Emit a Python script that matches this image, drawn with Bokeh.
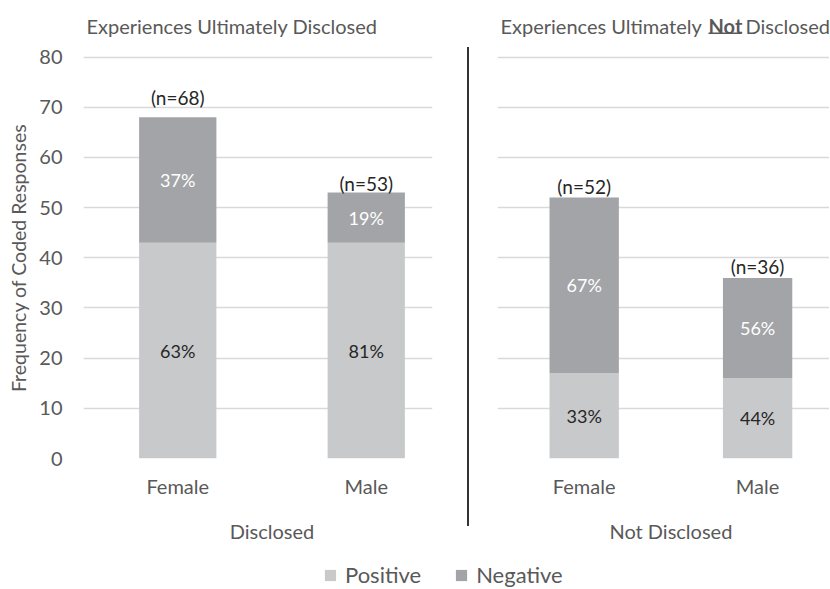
from bokeh.plotting import figure
from bokeh.models import (Range1d, FixedTicker, Label, Legend, LegendItem,
                          ColumnDataSource, Div, BoxAnnotation, LinearAxis)
from bokeh.layouts import row, column
from bokeh.embed import file_html
from bokeh.resources import INLINE
from bokeh.core.properties import value

# ---------------- data ----------------
CATEGORIES = ["Female", "Male"]
GROUPS = ["Disclosed", "Not Disclosed"]
DISCLOSED_POSITIVE = [43, 43]
DISCLOSED_NEGATIVE = [25, 10]
NOT_DISCLOSED_POSITIVE = [17, 16]
NOT_DISCLOSED_NEGATIVE = [35, 20]
Y_TICKS = [0, 10, 20, 30, 40, 50, 60, 70, 80]
SERIES = ["Positive", "Negative"]
Y_TITLE = "Frequency of Coded Responses"
TITLE_LEFT = "Experiences Ultimately Disclosed"
TITLE_RIGHT = ["Experiences Ultimately", "Not", "Disclosed"]

# ---------------- style ----------------
FONT = "Lato"
POS_COLOR = "#C8C9CB"
NEG_COLOR = "#A3A4A7"
GRID_COLOR = "#D9D9D9"
AXIS_TEXT = "#595959"
DARK_TEXT = "#262626"
FIG_H = 545
PLOT_TOP_PX = 57          # pixel row of the 80 gridline
PLOT_H_PX = 404           # pixels between 0 and 80
Y_MAX = 80
PX_PER_Y = PLOT_H_PX / Y_MAX
Y_END = Y_MAX + PLOT_TOP_PX / PX_PER_Y


def style_axis(ax, standoff, size):
    ax.axis_line_color = None
    ax.major_tick_line_color = None
    ax.minor_tick_line_color = None
    ax.major_tick_out = 0
    ax.major_tick_in = 0
    ax.major_label_standoff = standoff
    ax.major_label_text_font = FONT
    ax.major_label_text_font_size = size
    ax.major_label_text_color = AXIS_TEXT


def make_panel(pos, neg, group, width, border_left, border_right, x_end,
               bar_width, n_offsets, show_y):
    xs = list(range(len(CATEGORIES)))
    total = [a + b for a, b in zip(pos, neg)]
    src = ColumnDataSource(dict(
        x=xs, pos=pos, neg=neg, total=total,
        pos_mid=[a / 2 for a in pos],
        neg_mid=[a + b / 2 for a, b in zip(pos, neg)],
        pos_lbl=[f"{round(100 * a / t)}%" for a, t in zip(pos, total)],
        neg_lbl=[f"{round(100 * b / t)}%" for b, t in zip(neg, total)],
        n_lbl=[f"(n={t})" for t in total],
        n_off=[-o for o in n_offsets],
    ))
    p = figure(width=width, height=FIG_H, x_range=Range1d(-0.5, x_end),
               y_range=Range1d(0, Y_END), output_backend="svg",
               toolbar_location=None, title=None,
               min_border_left=border_left, min_border_right=border_right,
               min_border_top=0,
               min_border_bottom=FIG_H - PLOT_TOP_PX - PLOT_H_PX,
               outline_line_color=None)
    p.vbar(x="x", bottom=0, top="pos", width=bar_width, source=src,
           fill_color=POS_COLOR, line_color=None)
    p.vbar(x="x", bottom="pos", top="total", width=bar_width, source=src,
           fill_color=NEG_COLOR, line_color=None)
    p.text(x="x", y="pos_mid", text="pos_lbl", source=src,
           text_align="center", text_baseline="middle",
           text_font=value(FONT), text_font_size="18px", text_color=DARK_TEXT)
    p.text(x="x", y="neg_mid", text="neg_lbl", source=src,
           text_align="center", text_baseline="middle",
           text_font=value(FONT), text_font_size="18px", text_color="white")
    p.text(x="x", y="total", text="n_lbl", y_offset="n_off", source=src,
           text_align="center", text_baseline="middle",
           text_font=value(FONT), text_font_size="19px", text_color=DARK_TEXT)

    p.xgrid.visible = False
    p.ygrid.ticker = FixedTicker(ticks=Y_TICKS)
    p.ygrid.grid_line_color = GRID_COLOR
    p.ygrid.grid_line_width = 1.5

    p.xaxis.ticker = FixedTicker(ticks=xs)
    p.xaxis.major_label_overrides = {i: c for i, c in enumerate(CATEGORIES)}
    style_axis(p.xaxis[0], 15, "20px")

    # second category axis carrying the group name, centred between bars
    mid = (xs[0] + xs[-1]) / 2
    gax = LinearAxis(ticker=FixedTicker(ticks=[mid]),
                     major_label_overrides={mid: group})
    p.add_layout(gax, "below")
    style_axis(gax, 18, "20px")

    if show_y:
        p.yaxis.ticker = FixedTicker(ticks=Y_TICKS)
        style_axis(p.yaxis[0], 21, "20px")
        # y title as a rotated label centred on the 0..80 span
        ymid = (Y_TICKS[0] + Y_TICKS[-1]) / 2
        tax = LinearAxis(ticker=FixedTicker(ticks=[ymid]),
                         major_label_overrides={ymid: Y_TITLE},
                         major_label_orientation="vertical")
        p.add_layout(tax, "left")
        style_axis(tax, 6, "19.5px")
    else:
        p.yaxis.visible = False
    return p


# left panel: frame 83..432 px, category spacing 188.5 px
left = make_panel(DISCLOSED_POSITIVE, DISCLOSED_NEGATIVE, GROUPS[0],
                  width=467, border_left=83, border_right=35,
                  x_end=-0.5 + 349 / 188.5,
                  bar_width=0.41, n_offsets=[20, 9], show_y=True)
left.add_layout(Label(x=-0.5, y=Y_MAX, x_offset=3, y_offset=31,
                      text=TITLE_LEFT,
                      text_align="left", text_baseline="alphabetic",
                      text_font=FONT, text_font_size="20px",
                      text_color=AXIS_TEXT))

# right panel: frame 497..829 px, category spacing 173.4 px
R_UNIT = 173.4
right = make_panel(NOT_DISCLOSED_POSITIVE, NOT_DISCLOSED_NEGATIVE, GROUPS[1],
                   width=360, border_left=28, border_right=0,
                   x_end=-0.5 + 332 / R_UNIT,
                   bar_width=0.4, n_offsets=[11, 11], show_y=False)
for txt, off, style in zip(TITLE_RIGHT, [3, 211, 248],
                           ["normal", "bold", "normal"]):
    right.add_layout(Label(x=-0.5, y=Y_MAX, x_offset=off, y_offset=31,
                           text=txt, text_align="left",
                           text_baseline="alphabetic", text_font=FONT,
                           text_font_size="20px", text_font_style=style,
                           text_color=AXIS_TEXT))
# underline beneath the bold word
right.add_layout(BoxAnnotation(left=-0.5 + 211 / R_UNIT,
                               right=-0.5 + 244 / R_UNIT,
                               bottom=Y_MAX + 23.2 / PX_PER_Y,
                               top=Y_MAX + 24.8 / PX_PER_Y,
                               fill_color=AXIS_TEXT, fill_alpha=1,
                               line_color=None))

sep = Div(text="", width=2, height=479, margin=(47, 0, 0, 0),
          styles={"background-color": "#333333"})

# legend strip
lg = figure(width=829, height=42, output_backend="svg", toolbar_location=None,
            title=None, min_border=0, outline_line_color=None,
            x_range=Range1d(0, 1), y_range=Range1d(0, 1),
            x_axis_location=None, y_axis_location=None)
lg.grid.visible = False
key_src = ColumnDataSource(dict(x=[0, 0], top=[0, 0], series=SERIES))
r_pos = lg.vbar(x="x", top="top", width=0.0, source=key_src,
                fill_color=POS_COLOR, line_color=None)
r_neg = lg.vbar(x="x", top="top", width=0.0, source=key_src,
                fill_color=NEG_COLOR, line_color=None)
legend = Legend(items=[LegendItem(label=SERIES[0], renderers=[r_pos]),
                       LegendItem(label=SERIES[1], renderers=[r_neg])],
                orientation="horizontal", location=(323, -1),
                glyph_width=14, glyph_height=14, label_standoff=8,
                spacing=33, padding=0, margin=0, border_line_color=None,
                background_fill_alpha=0, label_text_font=FONT,
                label_text_font_size="22px", label_text_color=AXIS_TEXT)
lg.add_layout(legend, "center")

layout = column(row(left, sep, right), lg)
open("out.html", "w").write(file_html(layout, INLINE))
